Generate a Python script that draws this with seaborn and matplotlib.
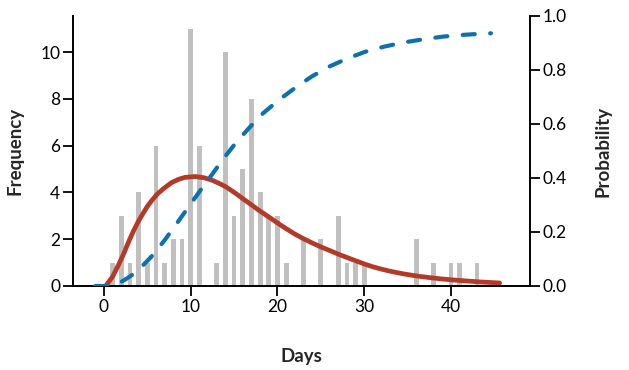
import matplotlib
matplotlib.use("Agg")
import matplotlib.pyplot as plt
import seaborn as sns

# Histogram of observed counts per day
bar_days = [1, 2, 3, 4, 5, 6, 7, 8, 9, 10, 11, 13, 14, 15, 16, 17, 18, 19, 20, 21,
            23, 25, 27, 28, 29, 30, 36, 38, 40, 41, 43]
bar_counts = [1, 3, 1, 4, 1, 6, 1, 2, 2, 11, 6, 1, 10, 3, 5, 8, 4, 3, 3, 1,
              2, 2, 3, 1, 1, 1, 2, 1, 1, 1, 1]

# Fitted density (frequency scale)
pdf_days = [0.3, 1.0, 1.65, 2.3, 2.8, 3.4, 3.95, 4.5, 5.0, 5.5, 6.2, 7.0, 7.8, 8.6,
            9.3, 10.5, 11.5, 12.4, 13.2, 14.0, 15.1, 16.05, 17.0, 17.8, 19.0, 20.3,
            21.0, 22.0, 23.0, 24.0, 25.0, 26.0, 27.0, 28.0, 29.0, 30.1, 31.0, 32.0,
            33.0, 34.5, 36.0, 37.5, 39.0, 40.5, 42.0, 43.5, 45.6]
pdf_freq = [0.05, 0.4, 0.88, 1.4, 1.85, 2.35, 2.75, 3.1, 3.4, 3.65, 3.95, 4.2, 4.42,
            4.56, 4.64, 4.68, 4.63, 4.53, 4.4, 4.25, 3.98, 3.72, 3.47, 3.25, 2.95, 2.62,
            2.45, 2.22, 2.02, 1.84, 1.67, 1.52, 1.36, 1.22, 1.08, 0.93, 0.82, 0.72,
            0.63, 0.52, 0.43, 0.36, 0.3, 0.25, 0.21, 0.17, 0.13]

# Cumulative probability
cdf_days = [-1.0, 0.7, 1.5, 2.5, 3.2, 3.95, 4.7, 5.5, 6.26, 7.0, 8.4, 9.8, 11.15,
            12.5, 13.85, 15.2, 16.8, 18.35, 20.2, 22.0, 23.9, 25.85, 28.0, 30.15,
            32.35, 34.55, 36.85, 39.15, 41.4, 43.7, 44.6]
cdf_prob = [0.0, 0.0, 0.006, 0.025, 0.04, 0.06, 0.083, 0.11, 0.14, 0.17, 0.232,
            0.295, 0.356, 0.415, 0.475, 0.53, 0.588, 0.64, 0.69, 0.733, 0.775, 0.811,
            0.842, 0.868, 0.887, 0.902, 0.914, 0.924, 0.93, 0.935, 0.936]

x_ticks = [0, 10, 20, 30, 40]
left_ticks = [0, 2, 4, 6, 8, 10]
right_ticks = [0.0, 0.2, 0.4, 0.6, 0.8, 1.0]

RED = "#B33A28"
BLUE = "#0F70AE"
GREY = "#C0C0C0"

sns.set_style("ticks")
plt.rcParams['font.family'] = ['Lato', 'DejaVu Sans']

fig = plt.figure(figsize=(6.29, 3.70), dpi=100)
ax = fig.add_axes([72.7 / 629, (370 - 286) / 370, (530 - 72.7) / 629, (286 - 16) / 370])

sns.histplot(x=bar_days, weights=bar_counts, discrete=True, shrink=0.55,
             color=GREY, edgecolor="none", linewidth=0, alpha=1, ax=ax)
sns.lineplot(x=pdf_days, y=pdf_freq, color=RED, linewidth=3.4, ax=ax,
             solid_capstyle="round")

ax.set_xlim(-3.6, 49.1)
ax.set_ylim(0, 11.54)
ax.set_xticks(x_ticks)
ax.set_yticks(left_ticks)
ax.set_xticklabels([str(v) for v in x_ticks])
ax.set_yticklabels([str(v) for v in left_ticks])

ax2 = ax.twinx()
sns.lineplot(x=cdf_days, y=cdf_prob, color=BLUE, linewidth=3.0, ax=ax2)
for ln in ax2.get_lines():
    ln.set_dashes((2.9, 3.7))
    ln.set_dash_capstyle("round")
ax2.set_ylim(0, 1.0)
ax2.set_yticks(right_ticks)
ax2.set_yticklabels([f"{v:.1f}" for v in right_ticks])

for a in (ax, ax2):
    a.spines["top"].set_visible(False)
    for s in a.spines.values():
        s.set_linewidth(1.4)
        s.set_color("black")
    a.tick_params(direction="out", length=7, width=1.3, labelsize=12.5,
                  colors="black", pad=2)
ax.spines["right"].set_visible(False)
ax2.spines["left"].set_visible(False)
ax2.spines["bottom"].set_visible(False)

ax.set_xlabel("Days", fontsize=13.5, fontweight="bold", labelpad=24)
ax.set_ylabel("Frequency", fontsize=13.5, fontweight="bold", labelpad=12)
ax2.set_ylabel("Probability", fontsize=13.5, fontweight="bold", labelpad=20)

fig.savefig("out.png", dpi=100)
